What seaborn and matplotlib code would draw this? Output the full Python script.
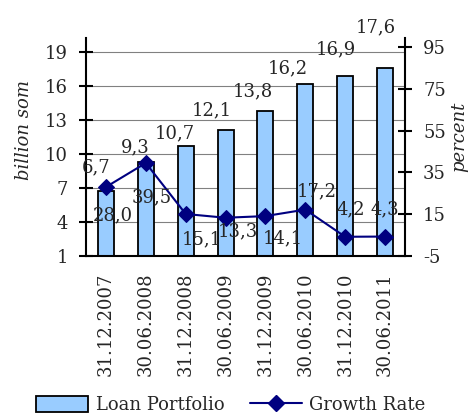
import matplotlib
matplotlib.use("Agg")
import matplotlib.pyplot as plt
import seaborn as sns
import numpy as np
import pandas as pd
from matplotlib.patches import Patch
from matplotlib.lines import Line2D

dates = ["31.12.2007", "30.06.2008", "31.12.2008", "30.06.2009",
         "31.12.2009", "30.06.2010", "31.12.2010", "30.06.2011"]
loan_portfolio = [6.7, 9.3, 10.7, 12.1, 13.8, 16.2, 16.9, 17.6]
growth_rate = [28.0, 39.5, 15.1, 13.3, 14.1, 17.2, 4.2, 4.3]

# label offsets in pixels (Excel placed them by hand)
bar_lbl_off = [(-10, 24), (-11, 15), (-11, 13), (-14, 20), (-13, 20), (-18, 15), (-9, 26), (-9, 41)]
line_lbl_off = [(7, -28), (6, -34), (16, -25), (12, -14), (17, -22), (11, 18), (6, 27), (0, 27)]

df = pd.DataFrame({"date": dates, "loan": loan_portfolio, "growth": growth_rate,
                   "pos": np.arange(len(dates))})

sns.set_style("white")
plt.rcParams["font.family"] = ["DejaVu Serif"]
plt.rcParams["font.size"] = 13
plt.rcParams["axes.unicode_minus"] = False

fig = plt.figure(figsize=(4.7, 4.15), dpi=100)
ax = fig.add_axes([86/470, 1 - 256/415, (405-86)/470, (256-38)/415])

sns.barplot(data=df, x="pos", y="loan", ax=ax, color="#99CCFF", width=0.4,
            edgecolor="black", linewidth=1.3, saturation=1)
ax.set_ylim(1, 20.24)
ax.set_yticks(np.arange(1, 20, 3))
ax.yaxis.grid(True, color="#808080", linewidth=0.8)
ax.set_axisbelow(True)
ax.set_xlim(-0.5, 7.5)

ax2 = ax.twinx()
sns.lineplot(data=df, x="pos", y="growth", ax=ax2, color="#000080",
             marker="D", markersize=8, linewidth=1.5, markeredgecolor="#000080")
ax2.set_ylim(-5, 99.3)
ax2.set_yticks(np.arange(-5, 96, 20))
ax2.set_xlim(-0.5, 7.5)

for a in (ax, ax2):
    a.set_xlabel("")
    a.set_ylabel("")
    for s in a.spines.values():
        s.set_visible(False)
for s in (ax.spines["left"], ax.spines["bottom"], ax2.spines["right"]):
    s.set_visible(True)
    s.set_color("black")
    s.set_linewidth(1.5)

ax.set_xticks(df["pos"])
ax.set_xticklabels(dates, rotation=90)
ax.set_xticks(np.arange(len(dates) + 1) - 0.5, minor=True)
ax.tick_params(axis="x", which="major", length=0, pad=12)
ax.tick_params(axis="x", which="minor", length=8, width=1.5, direction="inout", color="black")
ax.tick_params(axis="y", length=10, width=1.5, direction="inout", color="black", pad=8, left=True)
ax2.tick_params(axis="y", length=10, width=1.5, direction="inout", color="black", pad=8, right=True)

for i, v in enumerate(loan_portfolio):
    ax.annotate(f"{v:.1f}".replace(".", ","), (i, v), xytext=bar_lbl_off[i],
                textcoords="offset pixels", ha="center", va="center")
for i, v in enumerate(growth_rate):
    ax2.annotate(f"{v:.1f}".replace(".", ","), (i, v), xytext=line_lbl_off[i],
                 textcoords="offset pixels", ha="center", va="center")

fig.text(24/470, 1 - 130/415, "billion som", rotation=90, style="italic",
         ha="center", va="center")
fig.text(459/470, 1 - 137/415, "percent", rotation=90, style="italic",
         ha="center", va="center")

handles = [Patch(facecolor="#99CCFF", edgecolor="black", linewidth=1.3),
           Line2D([], [], color="#000080", marker="D", markersize=8, linewidth=1.5)]
fig.legend(handles, ["Loan Portfolio", "Growth Rate"], loc="center",
           bbox_to_anchor=(0.491, 1 - 405/415), ncol=2, frameon=False,
           handlelength=2.9, handleheight=1.0, handletextpad=0.4, columnspacing=1.4,
           borderpad=0.1)

fig.savefig("out.png", dpi=100)
